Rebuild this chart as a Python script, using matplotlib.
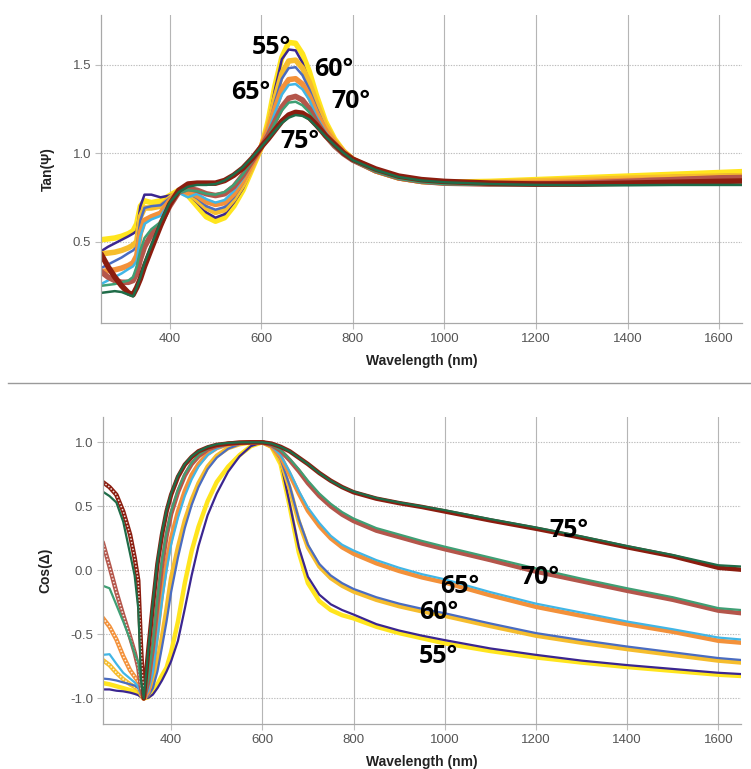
"""
Tan(Psi) and Cos(Delta) spectra at five angles of incidence.
Measured curves are drawn thick, the model fit thin on top of them.

Output
------
out.png
"""
import matplotlib
matplotlib.use("Agg")
import matplotlib.pyplot as plt
from matplotlib.lines import Line2D

ANGLES = [55, 60, 65, 70, 75]

# --- Tan(Psi) -------------------------------------------------------------
WL_TAN = [250, 265, 280, 295, 310, 320, 328, 336, 345, 360,
          380, 400, 420, 440, 460, 480, 500, 520, 540, 560,
          580, 600, 615, 630, 645, 660, 675, 690, 705, 720,
          740, 760, 780, 800, 850, 900, 950, 1000, 1100, 1200,
          1300, 1400, 1500, 1600, 1650]

TAN_55_DATA = [0.51, 0.515, 0.52, 0.53, 0.545, 0.56, 0.60, 0.70, 0.73, 0.72,
               0.73, 0.76, 0.79, 0.76, 0.70, 0.64, 0.615, 0.635, 0.70, 0.79,
               0.91, 1.03, 1.18, 1.38, 1.54, 1.625, 1.62, 1.56, 1.46, 1.33,
               1.18, 1.08, 1.01, 0.965, 0.90, 0.86, 0.84, 0.835, 0.84, 0.85,
               0.86, 0.87, 0.88, 0.89, 0.895]
TAN_55_MODEL = [0.445, 0.47, 0.49, 0.51, 0.53, 0.545, 0.56, 0.70, 0.765, 0.765,
                0.75, 0.76, 0.78, 0.77, 0.72, 0.665, 0.635, 0.655, 0.72, 0.80,
                0.91, 1.03, 1.16, 1.36, 1.53, 1.585, 1.58, 1.51, 1.40, 1.28,
                1.14, 1.06, 1.00, 0.96, 0.895, 0.855, 0.835, 0.83, 0.83, 0.84,
                0.85, 0.86, 0.87, 0.875, 0.878]
TAN_60_DATA = [0.43, 0.435, 0.44, 0.45, 0.465, 0.48, 0.50, 0.64, 0.69, 0.69,
               0.70, 0.745, 0.785, 0.775, 0.735, 0.69, 0.665, 0.68, 0.74, 0.82,
               0.92, 1.035, 1.15, 1.31, 1.45, 1.52, 1.525, 1.48, 1.40, 1.29,
               1.16, 1.07, 1.01, 0.965, 0.90, 0.86, 0.84, 0.833, 0.835, 0.843,
               0.85, 0.858, 0.865, 0.87, 0.872]
TAN_60_MODEL = [0.35, 0.37, 0.39, 0.41, 0.435, 0.45, 0.47, 0.62, 0.69, 0.70,
                0.705, 0.745, 0.78, 0.775, 0.745, 0.70, 0.68, 0.695, 0.75, 0.83,
                0.93, 1.035, 1.14, 1.29, 1.42, 1.48, 1.485, 1.44, 1.36, 1.26,
                1.14, 1.06, 1.00, 0.96, 0.895, 0.855, 0.835, 0.828, 0.828, 0.835,
                0.842, 0.85, 0.857, 0.862, 0.864]
TAN_65_DATA = [0.33, 0.335, 0.34, 0.35, 0.365, 0.38, 0.42, 0.55, 0.62, 0.64,
               0.66, 0.73, 0.78, 0.78, 0.76, 0.725, 0.71, 0.72, 0.77, 0.845,
               0.94, 1.035, 1.13, 1.25, 1.36, 1.415, 1.42, 1.39, 1.32, 1.23,
               1.13, 1.06, 1.005, 0.965, 0.90, 0.86, 0.84, 0.832, 0.828, 0.832,
               0.838, 0.845, 0.85, 0.855, 0.857]
TAN_65_MODEL = [0.26, 0.28, 0.30, 0.32, 0.345, 0.36, 0.39, 0.53, 0.60, 0.625,
                0.645, 0.72, 0.775, 0.75, 0.77, 0.74, 0.72, 0.735, 0.785, 0.855,
                0.945, 1.035, 1.12, 1.23, 1.33, 1.385, 1.39, 1.36, 1.30, 1.21,
                1.12, 1.05, 1.00, 0.96, 0.895, 0.855, 0.833, 0.825, 0.822, 0.825,
                0.83, 0.835, 0.84, 0.843, 0.845]
TAN_70_DATA = [0.33, 0.30, 0.28, 0.27, 0.27, 0.28, 0.32, 0.40, 0.47, 0.54,
               0.60, 0.70, 0.78, 0.80, 0.79, 0.77, 0.76, 0.77, 0.81, 0.875,
               0.955, 1.035, 1.10, 1.18, 1.26, 1.31, 1.32, 1.30, 1.25, 1.18,
               1.10, 1.04, 0.995, 0.96, 0.90, 0.86, 0.84, 0.83, 0.825, 0.825,
               0.83, 0.84, 0.85, 0.86, 0.862]
TAN_70_MODEL = [0.25, 0.255, 0.26, 0.27, 0.28, 0.30, 0.36, 0.45, 0.52, 0.57,
                0.61, 0.70, 0.775, 0.79, 0.785, 0.77, 0.765, 0.78, 0.82, 0.88,
                0.955, 1.035, 1.09, 1.17, 1.24, 1.285, 1.29, 1.27, 1.23, 1.17,
                1.09, 1.035, 0.99, 0.955, 0.895, 0.855, 0.835, 0.825, 0.82, 0.818,
                0.82, 0.825, 0.83, 0.835, 0.836]
TAN_75_DATA = [0.43, 0.36, 0.30, 0.25, 0.21, 0.20, 0.24, 0.29, 0.36, 0.46,
               0.59, 0.71, 0.79, 0.825, 0.83, 0.83, 0.83, 0.845, 0.875, 0.915,
               0.97, 1.035, 1.08, 1.13, 1.18, 1.215, 1.23, 1.225, 1.20, 1.16,
               1.10, 1.05, 1.00, 0.965, 0.91, 0.87, 0.85, 0.84, 0.83, 0.825,
               0.825, 0.83, 0.835, 0.84, 0.842]
TAN_75_MODEL = [0.21, 0.215, 0.22, 0.215, 0.20, 0.19, 0.24, 0.30, 0.38, 0.48,
                0.61, 0.72, 0.78, 0.81, 0.82, 0.82, 0.825, 0.845, 0.88, 0.92,
                0.975, 1.035, 1.08, 1.125, 1.17, 1.20, 1.215, 1.21, 1.19, 1.15,
                1.095, 1.045, 1.00, 0.96, 0.905, 0.865, 0.845, 0.835, 0.825, 0.82,
                0.818, 0.818, 0.82, 0.82, 0.82]

# --- Cos(Delta) -----------------------------------------------------------
WL_COS = [250, 265, 280, 295, 310, 320, 328, 334, 340, 350,
          360, 370, 380, 390, 400, 415, 430, 445, 460, 480,
          500, 525, 550, 575, 600, 620, 640, 660, 680, 700,
          725, 750, 775, 800, 850, 900, 950, 1000, 1100, 1200,
          1300, 1400, 1500, 1600, 1650]

COS_55_DATA = [-0.88, -0.89, -0.905, -0.92, -0.935, -0.945, -0.955, -0.98, -1.0, -0.99,
               -0.95, -0.89, -0.82, -0.76, -0.64, -0.40, -0.10, 0.15, 0.34, 0.54,
               0.69, 0.81, 0.90, 0.97, 1.0, 0.965, 0.83, 0.50, 0.14, -0.10,
               -0.24, -0.31, -0.35, -0.375, -0.44, -0.49, -0.53, -0.57, -0.63, -0.68,
               -0.72, -0.755, -0.785, -0.815, -0.825]
COS_55_MODEL = [-0.93, -0.93, -0.94, -0.945, -0.955, -0.965, -0.975, -0.99, -1.0, -0.995,
                -0.97, -0.92, -0.86, -0.79, -0.71, -0.55, -0.30, -0.04, 0.19, 0.43,
                0.60, 0.77, 0.89, 0.97, 1.0, 0.97, 0.85, 0.52, 0.18, -0.05,
                -0.19, -0.265, -0.31, -0.345, -0.42, -0.47, -0.51, -0.545, -0.61, -0.66,
                -0.705, -0.74, -0.77, -0.80, -0.81]
COS_60_DATA = [-0.70, -0.74, -0.80, -0.85, -0.89, -0.91, -0.93, -0.97, -1.0, -0.97,
               -0.87, -0.72, -0.52, -0.30, -0.06, 0.18, 0.39, 0.55, 0.68, 0.81,
               0.895, 0.955, 0.985, 1.0, 1.0, 0.97, 0.86, 0.64, 0.38, 0.18,
               0.03, -0.06, -0.12, -0.165, -0.23, -0.28, -0.32, -0.355, -0.435, -0.51,
               -0.565, -0.615, -0.66, -0.705, -0.72]
COS_60_MODEL = [-0.845, -0.85, -0.86, -0.875, -0.89, -0.90, -0.92, -0.97, -1.0, -0.98,
                -0.92, -0.79, -0.60, -0.40, -0.17, 0.10, 0.33, 0.51, 0.65, 0.79,
                0.88, 0.95, 0.985, 1.0, 1.0, 0.97, 0.87, 0.66, 0.40, 0.20,
                0.05, -0.04, -0.10, -0.145, -0.21, -0.26, -0.30, -0.335, -0.415, -0.49,
                -0.545, -0.595, -0.64, -0.685, -0.70]
COS_65_DATA = [-0.37, -0.44, -0.54, -0.67, -0.78, -0.83, -0.87, -0.94, -1.0, -0.95,
               -0.77, -0.48, -0.18, 0.06, 0.25, 0.46, 0.62, 0.745, 0.83, 0.91,
               0.955, 0.985, 0.995, 1.0, 1.0, 0.97, 0.89, 0.75, 0.60, 0.465,
               0.345, 0.25, 0.18, 0.13, 0.055, -0.005, -0.055, -0.095, -0.195, -0.285,
               -0.355, -0.42, -0.48, -0.55, -0.565]
COS_65_MODEL = [-0.66, -0.655, -0.73, -0.80, -0.845, -0.875, -0.91, -0.96, -1.0, -0.94,
                -0.80, -0.53, -0.24, 0.00, 0.20, 0.41, 0.58, 0.71, 0.81, 0.90,
                0.95, 0.985, 0.995, 1.0, 1.0, 0.97, 0.90, 0.77, 0.62, 0.49,
                0.37, 0.27, 0.20, 0.155, 0.08, 0.02, -0.03, -0.07, -0.17, -0.26,
                -0.33, -0.40, -0.46, -0.525, -0.54]
COS_70_DATA = [0.22, 0.03, -0.17, -0.35, -0.52, -0.64, -0.76, -0.92, -1.0, -0.87,
               -0.60, -0.26, 0.04, 0.27, 0.44, 0.61, 0.74, 0.83, 0.89, 0.945,
               0.97, 0.99, 0.997, 1.0, 1.0, 0.98, 0.935, 0.86, 0.775, 0.68,
               0.58, 0.50, 0.435, 0.385, 0.31, 0.26, 0.21, 0.165, 0.08, -0.01,
               -0.085, -0.16, -0.23, -0.315, -0.335]
COS_70_MODEL = [-0.12, -0.14, -0.27, -0.40, -0.54, -0.65, -0.72, -0.88, -1.0, -0.85,
                -0.57, -0.22, 0.08, 0.30, 0.46, 0.63, 0.755, 0.84, 0.90, 0.95,
                0.975, 0.99, 0.997, 1.0, 1.0, 0.98, 0.94, 0.87, 0.79, 0.70,
                0.60, 0.52, 0.455, 0.405, 0.33, 0.28, 0.23, 0.185, 0.10, 0.015,
                -0.065, -0.14, -0.21, -0.295, -0.31]
COS_75_DATA = [0.69, 0.65, 0.59, 0.46, 0.28, 0.10, -0.08, -0.60, -1.0, -0.62,
               -0.27, 0.05, 0.28, 0.46, 0.59, 0.73, 0.825, 0.885, 0.93, 0.96,
               0.98, 0.99, 0.997, 1.0, 1.0, 0.99, 0.965, 0.93, 0.88, 0.83,
               0.76, 0.70, 0.65, 0.61, 0.56, 0.525, 0.495, 0.46, 0.39, 0.325,
               0.255, 0.18, 0.11, 0.02, 0.005]
COS_75_MODEL = [0.615, 0.58, 0.53, 0.38, 0.13, -0.04, -0.30, -0.85, -1.0, -0.62,
                -0.25, 0.07, 0.30, 0.47, 0.60, 0.74, 0.83, 0.89, 0.93, 0.965,
                0.985, 0.995, 1.0, 1.0, 1.0, 0.99, 0.965, 0.93, 0.88, 0.83,
                0.76, 0.70, 0.65, 0.615, 0.565, 0.53, 0.50, 0.47, 0.40, 0.335,
                0.265, 0.19, 0.12, 0.04, 0.03]

DATA_COLORS = ["#ffe51e", "#f6bd2d", "#f3913a", "#b4564b", "#8b1d0f"]
MODEL_COLORS = ["#3b2690", "#4a6cc1", "#41b6e6", "#3f9f74", "#1f6c48"]

# angle tags: (wavelength, value) of the text baseline centre
TAN_TAGS = [(623, 1.558), (758, 1.435), (576, 1.303), (796, 1.2525), (684, 1.03)]
COS_TAGS = [(987, -0.725), (987, -0.382), (1032, -0.175), (1209, -0.107), (1273, 0.262)]

UV_EDGE = 340   # below this the sparse measured points show as open markers

W, H = 751, 769
GRID_COLOR = "#bdbdbd"
TEXT_COLOR = "#555555"

plt.rcParams["font.family"] = ["Liberation Sans", "DejaVu Sans"]
plt.rcParams["axes.unicode_minus"] = False


def style_axes(ax, ylim, yticks, ylabel):
    ax.set_xlim(250, 1650)
    ax.set_ylim(*ylim)
    ax.set_xticks(range(400, 1601, 200))
    ax.set_yticks(yticks)
    ax.set_yticklabels([f"{t:.1f}" for t in yticks])
    for side in ("top", "right"):
        ax.spines[side].set_visible(False)
    for side in ("left", "bottom"):
        ax.spines[side].set_color("#a8a8a8")
        ax.spines[side].set_linewidth(0.9)
    ax.grid(axis="x", color="#b5b5b5", lw=0.8, ls="-")
    ax.grid(axis="y", color=GRID_COLOR, lw=0.8, ls=(0, (1.2, 1.2)))
    ax.set_axisbelow(True)
    ax.tick_params(colors=GRID_COLOR, labelcolor=TEXT_COLOR, labelsize=9.5,
                   length=4, width=0.8, pad=3)
    ax.set_xlabel("Wavelength (nm)", fontsize=10, fontweight="bold",
                  color="#222222", labelpad=7)
    ax.set_ylabel(ylabel, fontsize=10, fontweight="bold", color="#222222",
                  labelpad=13)


def draw_curves(ax, wl, data_sets, model_sets, data_lw, model_lw, hollow=()):
    n_uv = sum(1 for w in wl if w <= UV_EDGE)
    for i, (data, model) in enumerate(zip(data_sets, model_sets)):
        ax.plot(wl, data, color=DATA_COLORS[i], lw=data_lw,
                solid_capstyle="round", solid_joinstyle="round")
        if i in hollow:
            # light core so the UV points read as open triangles
            ax.plot(wl[:n_uv], data[:n_uv], color="white", lw=data_lw * 0.35,
                    ls=(0, (1.0, 1.2)), alpha=0.85)
        ax.plot(wl, model, color=MODEL_COLORS[i], lw=model_lw,
                solid_joinstyle="round")


def tag_angles(ax, tags):
    for angle, (x, y) in zip(ANGLES, tags):
        ax.text(x, y, f"{angle}°", ha="center", va="baseline", fontsize=18,
                fontweight="bold", family=["Open Sans", "DejaVu Sans"],
                color="black", zorder=10)


def main():
    fig = plt.figure(figsize=(W / 100, H / 100), dpi=100)

    ax_tan = fig.add_axes([101 / W, 1 - 323 / H, 641 / W, 308 / H])
    style_axes(ax_tan, (0.04, 1.78), [0.5, 1.0, 1.5], "Tan(Ψ)")
    draw_curves(ax_tan, WL_TAN,
                [TAN_55_DATA, TAN_60_DATA, TAN_65_DATA, TAN_70_DATA, TAN_75_DATA],
                [TAN_55_MODEL, TAN_60_MODEL, TAN_65_MODEL, TAN_70_MODEL, TAN_75_MODEL],
                data_lw=4.0, model_lw=1.8)
    tag_angles(ax_tan, TAN_TAGS)

    ax_cos = fig.add_axes([102.7 / W, 1 - 724 / H, 638.5 / W, 307.3 / H])
    style_axes(ax_cos, (-1.2, 1.2), [-1.0, -0.5, 0.0, 0.5, 1.0], "Cos(Δ)")
    draw_curves(ax_cos, WL_COS,
                [COS_55_DATA, COS_60_DATA, COS_65_DATA, COS_70_DATA, COS_75_DATA],
                [COS_55_MODEL, COS_60_MODEL, COS_65_MODEL, COS_70_MODEL, COS_75_MODEL],
                data_lw=3.2, model_lw=1.6, hollow=(1, 2, 3, 4))
    tag_angles(ax_cos, COS_TAGS)

    # rule between the two panels
    fig.add_artist(Line2D([8 / W, 1.0], [1 - 382.7 / H] * 2, color="#9a9a9a",
                          lw=1.0, transform=fig.transFigure))

    fig.savefig("out.png", dpi=100)
    plt.close(fig)


if __name__ == "__main__":
    main()
